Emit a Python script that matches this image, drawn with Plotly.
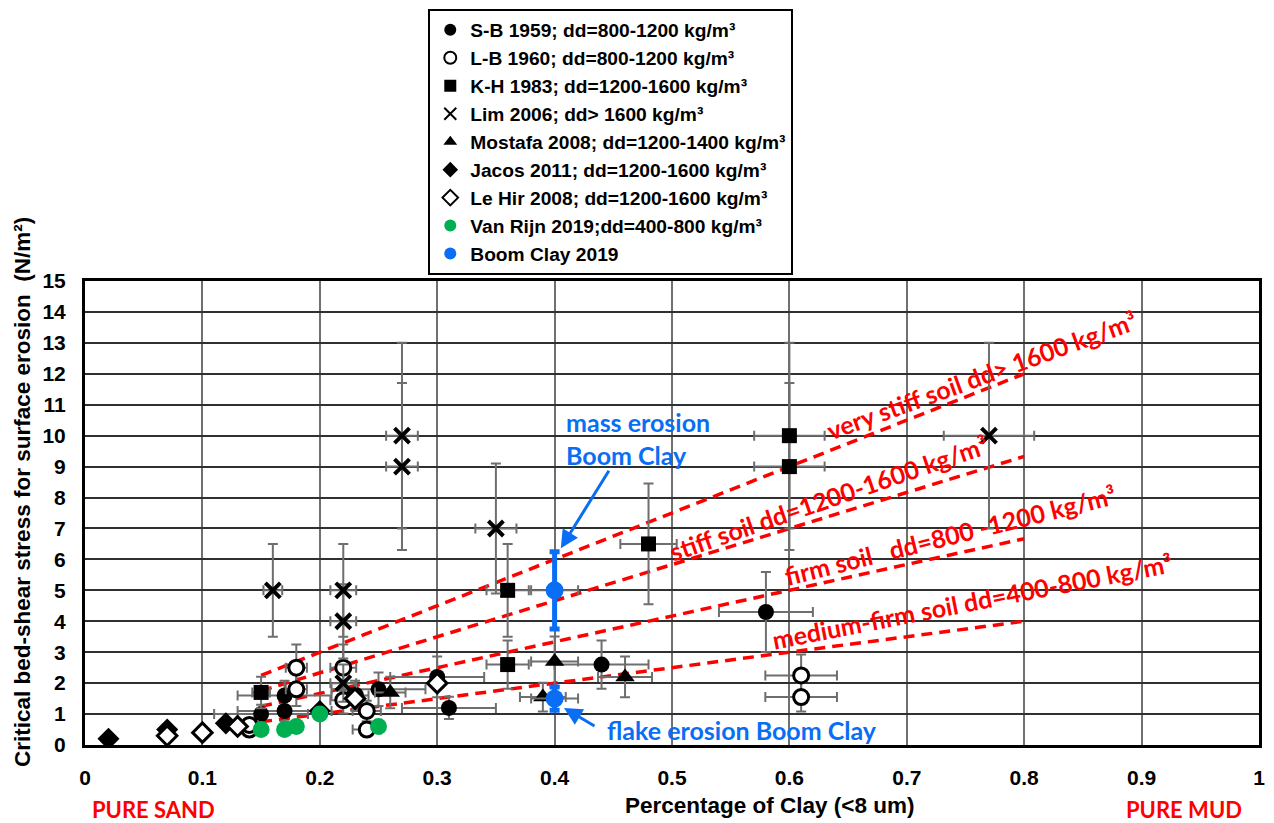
import plotly.graph_objects as go

# ---- measured data: clay fraction (x) vs critical bed-shear stress for surface erosion (y, N/m2)
SB_X = [0.15, 0.17, 0.17, 0.25, 0.30, 0.31, 0.44, 0.58]
SB_Y = [1.0, 1.6, 1.1, 1.8, 2.2, 1.2, 2.6, 4.3]

LB_X = [0.14, 0.14, 0.18, 0.18, 0.22, 0.22, 0.23, 0.24, 0.24, 0.61, 0.61]
LB_Y = [0.5, 0.65, 2.5, 1.8, 2.5, 1.45, 1.6, 1.1, 0.5, 2.25, 1.55]

KH_X = [0.15, 0.36, 0.36, 0.48, 0.60, 0.60]
KH_Y = [1.7, 5.0, 2.6, 6.5, 10.0, 9.0]

LIM_X = [0.16, 0.22, 0.22, 0.22, 0.27, 0.27, 0.35, 0.77]
LIM_Y = [5.0, 5.0, 4.0, 2.0, 10.0, 9.0, 7.0, 10.0]

MOS_X = [0.26, 0.39, 0.40, 0.46]
MOS_Y = [1.7, 1.55, 2.7, 2.2]

JAC_X = [0.02, 0.07, 0.12, 0.20]
JAC_Y = [0.2, 0.5, 0.7, 1.1]

LEHIR_X = [0.07, 0.10, 0.13, 0.23, 0.30]
LEHIR_Y = [0.3, 0.4, 0.6, 1.5, 2.0]

VR_X = [0.15, 0.17, 0.18, 0.20, 0.25]
VR_Y = [0.5, 0.5, 0.6, 1.0, 0.6]

BC_X = [0.40, 0.40]
BC_Y = [5.0, 1.5]

# ---- soil-class trend lines
LINE_X = [0.15, 0.80]
VERY_STIFF_Y = [2.25, 12.0]
STIFF_Y = [1.75, 9.33]
FIRM_Y = [1.25, 6.67]
MEDIUM_FIRM_Y = [0.75, 4.0]

# ---- error-bar sizes (percent of value / absolute clay fraction)
ERR_Y_PCT = 30
ERR_X_PCT = 5
SB_ERR_X = 0.04
BC_ERR_Y_PCT = 25

LEGEND_NAMES = [
    "S-B 1959; dd=800-1200 kg/m³",
    "L-B 1960; dd=800-1200 kg/m³",
    "K-H 1983; dd=1200-1600 kg/m³",
    "Lim 2006; dd> 1600 kg/m³",
    "Mostafa 2008; dd=1200-1400 kg/m³",
    "Jacos 2011; dd=1200-1600 kg/m³",
    "Le Hir 2008; dd=1200-1600 kg/m³",
    "Van Rijn 2019;dd=400-800 kg/m³",
    "Boom Clay 2019",
]

GREY = "#6e6e6e"
RED = "#ff0000"
BLUE = "#0a6ef5"
GREEN = "#00b050"
TXT_FONT = "Lato"
AX_FONT = "Liberation Sans"


def pct(p, color=GREY, thick=2):
    return dict(type="percent", value=p, color=color, thickness=thick, width=5)


def const(v):
    return dict(type="constant", value=v, color=GREY, thickness=2, width=5)


fig = go.Figure()

# trend lines underneath the markers
for ys in (VERY_STIFF_Y, STIFF_Y, FIRM_Y, MEDIUM_FIRM_Y):
    fig.add_trace(go.Scatter(x=LINE_X, y=ys, mode="lines", showlegend=False,
                             line=dict(color=RED, width=3.5, dash="11px,7px"),
                             hoverinfo="skip"))

series = [
    dict(x=SB_X, y=SB_Y, marker=dict(symbol="circle", size=16, color="black"),
         error_x=const(SB_ERR_X), error_y=pct(ERR_Y_PCT)),
    dict(x=LB_X, y=LB_Y, marker=dict(symbol="circle", size=15, color="white",
                                     line=dict(color="black", width=3)),
         error_x=pct(ERR_X_PCT), error_y=pct(ERR_Y_PCT)),
    dict(x=KH_X, y=KH_Y, marker=dict(symbol="square", size=15, color="black"),
         error_x=pct(ERR_X_PCT), error_y=pct(ERR_Y_PCT)),
    dict(x=LIM_X, y=LIM_Y, marker=dict(symbol="x-thin", size=15, color="black",
                                       line=dict(color="black", width=4)),
         error_x=pct(ERR_X_PCT), error_y=pct(ERR_Y_PCT)),
    dict(x=MOS_X, y=MOS_Y, marker=dict(symbol="triangle-up", size=17, color="black"),
         error_x=pct(ERR_X_PCT), error_y=pct(ERR_Y_PCT)),
    dict(x=JAC_X, y=JAC_Y, marker=dict(symbol="diamond", size=17, color="black")),
    dict(x=LEHIR_X, y=LEHIR_Y, marker=dict(symbol="diamond", size=15, color="white",
                                           line=dict(color="black", width=3))),
    dict(x=VR_X, y=VR_Y, marker=dict(symbol="circle", size=17, color=GREEN)),
    dict(x=BC_X, y=BC_Y, marker=dict(symbol="circle", size=18, color=BLUE),
         error_x=pct(ERR_X_PCT), error_y=pct(BC_ERR_Y_PCT, BLUE, 5)),
]

for i, (s, name) in enumerate(zip(series, LEGEND_NAMES)):
    fig.add_trace(go.Scatter(mode="markers", name=name, legendgroup=f"g{i}", **s))

ann = []
# soil class labels along the trend lines
line_labels = [
    ("very stiff soil dd> 1600 kg/m³", 0.764, 11.95, -20),
    ("stiff soil dd=1200-1600 kg/m³", 0.633, 8.0, -19),
    ("firm soil   dd=800 -1200 kg/m³", 0.737, 6.8, -14),
    ("medium-firm soil dd=400-800 kg/m³", 0.756, 4.65, -11),
]
for txt, x, y, ang in line_labels:
    ann.append(dict(x=x, y=y, xref="x", yref="y", text=txt, showarrow=False,
                    textangle=ang, xanchor="center", yanchor="middle",
                    font=dict(family=TXT_FONT, size=25, color=RED, weight=700)))

# Boom Clay notes and arrows
ann.append(dict(x=0.4076, y=9.9, xref="x", yref="y", text="mass erosion<br>Boom Clay",
                showarrow=False, xanchor="left", yanchor="middle", align="left",
                font=dict(family=TXT_FONT, size=25, color=BLUE, weight=700)))
ann.append(dict(x=0.4053, y=6.36, xref="x", yref="y", text="", showarrow=True,
                ax=49, ay=-79, arrowhead=2, arrowsize=1.2, arrowwidth=3,
                arrowcolor=BLUE))
ann.append(dict(x=0.443, y=0.48, xref="x", yref="y", text="flake erosion Boom Clay",
                showarrow=False, xanchor="left", yanchor="middle",
                font=dict(family=TXT_FONT, size=25, color=BLUE, weight=700)))
ann.append(dict(x=0.408, y=1.2, xref="x", yref="y", text="", showarrow=True,
                ax=32, ay=19, arrowhead=2, arrowsize=1.2, arrowwidth=3,
                arrowcolor=BLUE))

# end-member labels and axis titles
ann.append(dict(x=0.004, y=-0.138, xref="paper", yref="paper", text="PURE SAND",
                showarrow=False, xanchor="left", yanchor="middle",
                font=dict(family=TXT_FONT, size=22, color=RED, weight=700)))
ann.append(dict(x=0.987, y=-0.138, xref="paper", yref="paper", text="PURE MUD",
                showarrow=False, xanchor="right", yanchor="middle",
                font=dict(family=TXT_FONT, size=22, color=RED, weight=700)))
ann.append(dict(x=0.583, y=-0.131, xref="paper", yref="paper",
                text="Percentage of Clay (<8 um)", showarrow=False,
                xanchor="center", yanchor="middle",
                font=dict(family=AX_FONT, size=22.5, color="black", weight=700)))
ann.append(dict(x=-0.0534, y=0.546, xref="paper", yref="paper",
                text="Critical bed-shear stress for surface erosion  (N/m²)",
                showarrow=False, textangle=-90, xanchor="center", yanchor="middle",
                font=dict(family=AX_FONT, size=22.5, color="black", weight=700)))

fig.update_layout(
    width=1274, height=823,
    margin=dict(l=85, r=9, t=278, b=78),
    paper_bgcolor="white", plot_bgcolor="white",
    annotations=ann,
    legend=dict(x=0.2924, y=1.5865, xanchor="left", yanchor="top",
                bgcolor="white", bordercolor="black", borderwidth=2,
                tracegroupgap=0, itemsizing="constant",
                font=dict(family=AX_FONT, size=19.2, color="black", weight=700)),
    xaxis=dict(range=[0, 1], dtick=0.1, tick0=0, showgrid=True,
               gridcolor="#707070", gridwidth=1.5, zeroline=False,
               showline=True, linecolor="black", linewidth=3, mirror=True,
               ticks="", ticklabelstandoff=12,
               tickfont=dict(family=AX_FONT, size=21, color="black", weight=700)),
    yaxis=dict(range=[0, 15], dtick=1, tick0=0, showgrid=True,
               gridcolor="#303030", gridwidth=1.5, zeroline=False,
               showline=True, linecolor="black", linewidth=3, mirror=True,
               ticks="", ticklabelstandoff=12,
               tickfont=dict(family=AX_FONT, size=21, color="black", weight=700)),
)

fig.write_html("out.html")
